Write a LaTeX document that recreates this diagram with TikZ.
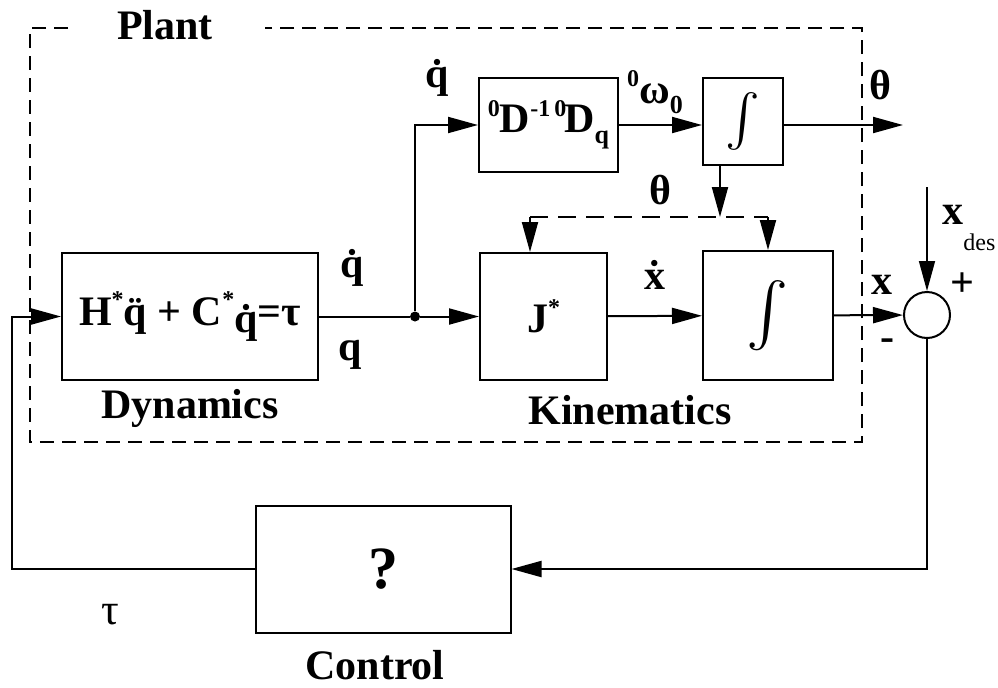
\documentclass[tikz,border=0pt]{standalone}
\usepackage{fontspec}
\setmainfont{Liberation Serif}
\usepackage{tikz}
\usetikzlibrary{arrows.meta, positioning, calc}

\newcommand{\bigint}[1]{\resizebox{!}{#1}{\(\int\)}}

\begin{document}
\begin{tikzpicture}[
    x=0.5pt, y=-0.5pt,
    font=\fontsize{21}{24}\selectfont\bfseries,
    block/.style={
        rectangle, draw, line width=1pt,
        inner sep=0pt
    },
    arrow/.style={-{Triangle[length=15pt,width=8pt]}, line width=1pt},
    sig/.style={inner sep=0pt},
    plant/.style={line width=0.9pt, dash pattern=on 7pt off 4pt}
]
\useasboundingbox (0,0) rectangle (998,687);

% ── Plant border ──
\draw[plant] (68,28) -- (30,28) -- (30,442) -- (862,442) -- (862,28) -- (265,28);
\node[sig] (lplant) at (165,25) {Plant};

% ── Blocks ──
\node[block, minimum width=128pt, minimum height=63.5pt] (dyn) at (190,316.5)
    {H\raisebox{0.9ex}{\fontsize{12}{12}\selectfont*}\"{q} + C\raisebox{0.9ex}{\fontsize{12}{12}\selectfont*}\raisebox{-0.35ex}{\.{q}}=τ};
\node[block, minimum width=69.5pt, minimum height=47pt] (dq) at (548.5,125)
    {\raisebox{0.8ex}{\fontsize{12}{12}\selectfont 0}D\raisebox{0.8ex}{\fontsize{12}{12}\selectfont -1\,0}\kern-1ptD\raisebox{-0.6ex}{\fontsize{13}{13}\selectfont q}};
\node[block, minimum width=40pt, minimum height=43.5pt] (int1) at (743,121)
    {\bigint{28pt}};
\node[block, minimum width=63.5pt, minimum height=63.5pt] (jac) at (543.5,316.5)
    {J\raisebox{0.9ex}{\fontsize{12}{12}\selectfont*}};
\node[block, minimum width=65pt, minimum height=64.5pt] (int2) at (768,315.5)
    {\bigint{34pt}};
\node[draw, circle, line width=1pt, minimum size=23pt, inner sep=0pt] (sum) at (927,315) {};
\node[block, minimum width=127.5pt, minimum height=63.5pt] (ctrl) at (383,569)
    {\fontsize{30}{32}\selectfont ?};
\node[circle, fill, inner sep=0pt, minimum size=5pt] (jn) at (415,316.5) {};

% ── Coordinates ──
\coordinate (thOut) at (903,125);
\coordinate (xdes) at (927,187);
\coordinate (lft) at (12,316.5);
\coordinate (thL) at (530,217);
\coordinate (thM) at (720,217);
\coordinate (thR) at (768,217);

% ── Connections ──
\draw[line width=1pt] (dyn.east) -- (jn);
\draw[arrow] (jn) -- (jac);
\draw[arrow] (jn) |- (dq);
\draw[arrow] (dq.east) -- (dq.east -| int1.west);
\draw[arrow] (dq.east -| int1.east) -- (thOut);
\draw[arrow] (jac) -- (int2);
\draw[arrow] (int2) -- (sum);
\draw[arrow, line width=0.8pt] (xdes) -- (sum);
\draw[arrow] (sum) |- (ctrl);
\draw[arrow] (ctrl.west) -| (lft) -- (dyn.west);

% theta feedback
\draw[line width=1pt, dash pattern=on 9pt off 5pt] (thL) -- (thR);
\draw[arrow] (thL) -- (thL |- jac.north);
\draw[arrow] (thR) -- (int2.north);
\draw[arrow] (thM |- int1.south) -- (thM);

% ── Labels ──
\node[sig] (ldyn) at (190,408) {Dynamics};
\node[sig] (lkin) at (630,410) {Kinematics};
\node[sig] (lctrl) at (375,665) {Control};
\node[sig] (lqd1) at (352,268) {\.{q}};
\node[sig] (lq) at (350,355) {q};
\node[sig] (lqd2) at (437,78) {\.{q}};
\node[sig] (lom) at (655,92)
    {\raisebox{0.9ex}{\fontsize{12}{12}\selectfont 0}ω\raisebox{-0.5ex}{\fontsize{13}{13}\selectfont 0}};
\node[sig] (lth1) at (880,85) {θ};
\node[sig] (lth2) at (660,190) {θ};
\node[sig] (lxd) at (655,275) {\.{x}};
\node[sig] (lx) at (882,285) {x};
\node[sig] (lminus) at (887,345) {-};
\node[sig] (lplus) at (962,285) {+};
\node[sig, anchor=west] (lxdes) at (942,228)
    {x\raisebox{-1.3ex}{\mdseries\fontsize{12}{12}\selectfont des}};
\node[sig, font=\fontsize{22}{24}\selectfont] (ltau) at (110,615) {τ};

\end{tikzpicture}
\end{document}
